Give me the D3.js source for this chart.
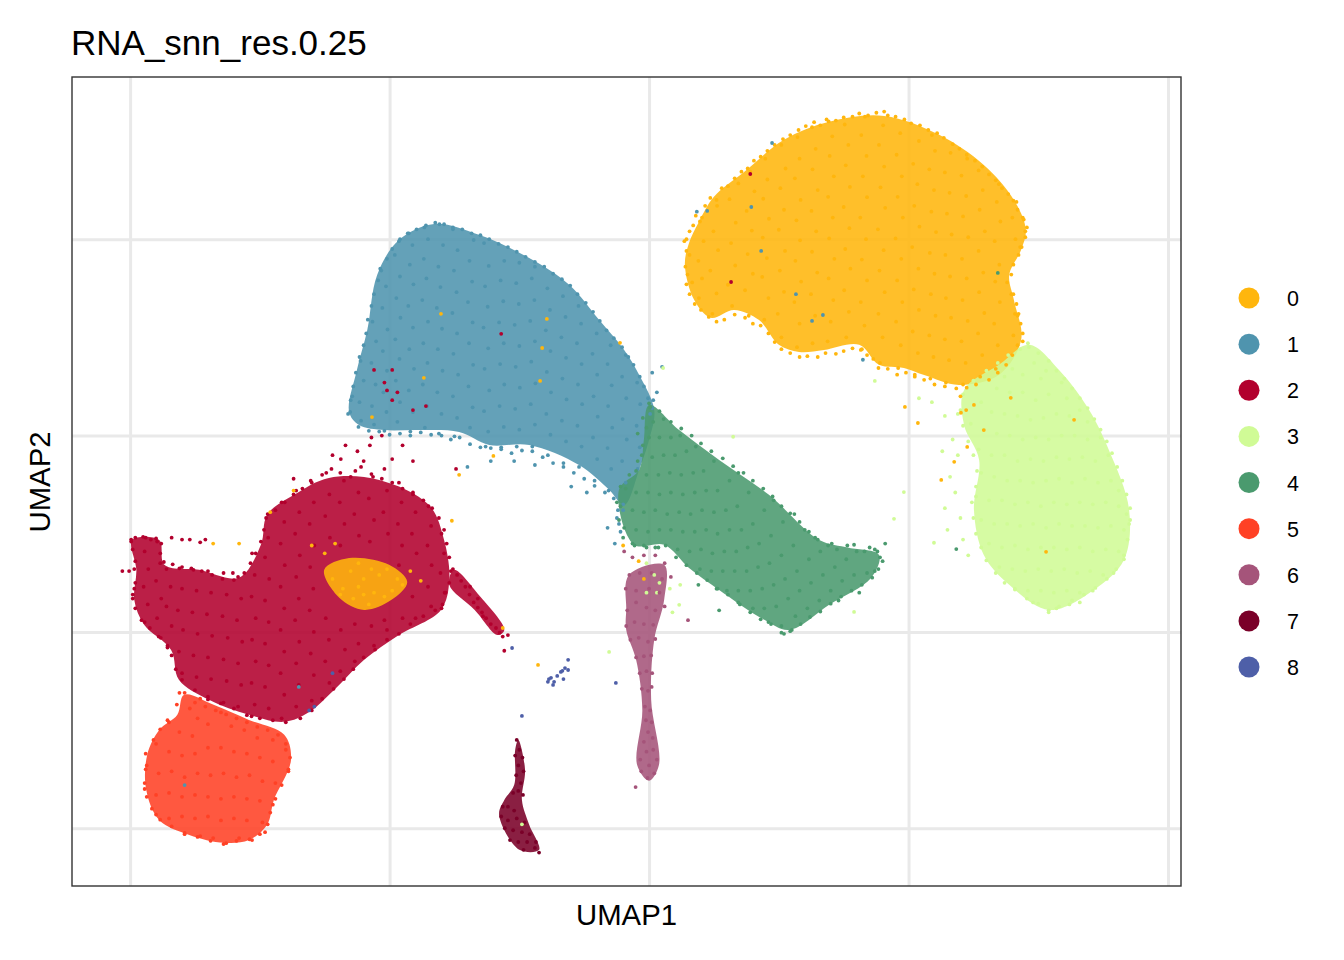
<!DOCTYPE html>
<html><head><meta charset="utf-8"><style>html,body{margin:0;background:#fff}svg{display:block}text{font-family:"Liberation Sans",Arial,sans-serif;fill:#000}</style>
<script src="https://cdn.jsdelivr.net/npm/d3@7"></script></head><body><div id="c"></div>
<script>
const clusters=["0","1","2","3","4","5","6","7","8"];
const colors=["#FFB60D","#4F94AE","#B2002D","#D0FB96","#4A9A6E","#FF4125","#A5547A","#7A0028","#4E5FA8"];
const xTicks=[-10,-5,0,5,10];
const yTicks=[-5,0,5,10];
const titleText="RNA_snn_res.0.25";
// Smoothed density areas standing in for the crowded interiors (thousands of cells can't be read one by one): [x,y, ...]
const region0=[.77,9.9,.96,10.44,1.25,11.08,1.83,11.71,2.6,12.53,3.47,12.99,4.53,13.14,5.59,12.66,6.45,11.89,7.03,11,7.26,10.24,7.17,9.73,6.94,9.09,7.03,8.45,7.17,7.44,6.74,6.54,5.97,6.29,5.3,6.54,4.91,6.72,4.43,6.8,4.05,7.31,3.37,7.18,2.89,7.13,2.5,7.31,2.12,7.94,1.64,8.2,1.19,8,.87,8.45,.69,9.35];
const region0b=[-6.26,1.58,-5.78,1.88,-5.01,1.71,-4.66,1.27,-4.97,.81,-5.49,.56,-5.97,.87];
const region1=[-5.78,5.6,-5.63,6.67,-5.43,7.69,-5.24,9.09,-4.82,9.98,-4.14,10.39,-3.28,10.11,-2.31,9.52,-1.54,8.84,-.96,7.94,-.48,7.18,-.19,6.54,.1,5.65,0,4.89,-.19,4.13,-.48,3.23,-.77,3.62,-1.35,4.25,-2.31,4.76,-3.08,4.76,-3.66,5.09,-4.43,5.14,-5.1,5.14,-5.59,5.27];
const region2=[-9.96,2.34,-9.44,2.34,-9.34,1.71,-8.67,1.58,-7.9,1.38,-7.48,2.22,-7.36,2.98,-6.84,3.49,-6.17,3.92,-5.2,3.87,-4.24,3.23,-3.95,2.34,-3.85,1.32,-4.01,.56,-4.82,-.08,-5.49,-.71,-6.07,-1.48,-6.55,-2.04,-7.03,-2.29,-7.71,-2.11,-8.48,-1.73,-9.06,-1.22,-9.21,-.46,-9.73,.18,-9.92,.81,-9.88,1.58];
const region2b=[-3.76,1.58,-3.28,.94,-2.79,.05,-2.92,-.08,-3.36,.56,-3.85,1.2];
const region3=[7.32,7.31,7.9,6.67,8.48,5.65,8.86,4.63,9.25,3.11,9.15,1.83,8.57,1.07,7.71,.56,6.94,1.2,6.45,1.96,6.26,3.11,6.36,4.38,6.07,5.27,6.07,6.16,6.74,6.8];
const region4=[0,5.78,.58,5.14,1.35,4.38,2.31,3.49,3.28,2.34,3.85,2.14,4.43,1.96,4.28,1.38,3.47,.69,2.7,.05,2.22,.31,1.35,1.07,.77,1.63,.29,2.22,-.29,2.22,-.58,3.62,-.19,4.13,-.1,4.89];
const region5=[-8.96,-1.6,-8.38,-1.86,-7.71,-2.24,-7.03,-2.62,-6.9,-3.26,-7.23,-4.28,-7.36,-4.91,-7.71,-5.3,-8.19,-5.37,-8.86,-5.17,-9.44,-4.79,-9.69,-4.02,-9.67,-3.13,-9.44,-2.5,-9.09,-2.11];
const region6=[-.44,.56,-.39,1.45,.29,1.71,.29,.81,.1,-.2,.04,-1.73,.19,-3.39,0,-3.79,-.23,-3.39,-.13,-1.99,-.25,-.71,-.44,.05];
const region7=[-2.52,-2.75,-2.39,-3.51,-2.45,-4.28,-2.31,-4.91,-2.12,-5.55,-2.5,-5.55,-2.89,-4.66,-2.79,-4.28,-2.6,-3.9,-2.58,-3];
// Cell positions: [x,y, x,y, ...]
const cells0=[.74,9.1,.78,9.6,.72,10,.83,8.9,.96,8.5,1.02,9,.95,9.45,1.05,9.95,.98,10.45,1.22,8.1,1.3,8.62,1.18,9.2,1.33,9.72,1.24,10.2,1.31,10.85,1.6,8.3,1.52,8.84,1.66,9.33,1.58,9.9,1.67,10.42,1.55,11.02,1.72,11.42,1.92,8.05,1.85,8.7,2,9.12,1.9,9.62,1.98,10.22,1.88,10.72,2.03,11.22,1.95,11.72,2.22,7.95,2.3,8.5,2.18,9.04,2.27,9.52,2.19,10.04,2.31,10.52,2.2,11.03,2.28,11.52,2.24,12.05,2.55,7.5,2.48,8.1,2.6,8.66,2.52,9.2,2.62,9.7,2.5,10.24,2.6,10.75,2.53,11.3,2.63,11.8,2.55,12.4,2.85,7.25,2.9,7.85,2.8,8.4,2.93,8.92,2.82,9.45,2.91,9.97,2.84,10.48,2.92,11,2.81,11.55,2.9,12.05,2.86,12.6,3.15,7.35,3.2,8.05,3.12,8.6,3.24,9.15,3.14,9.68,3.22,10.2,3.13,10.72,3.25,11.25,3.15,11.78,3.21,12.3,3.14,12.85,3.5,7.9,3.44,7.4,3.55,8.45,3.46,9,3.57,9.5,3.47,10.02,3.54,10.55,3.45,11.08,3.56,11.6,3.48,12.12,3.53,12.62,3.46,13,3.8,7.5,3.85,8.15,3.76,8.7,3.88,9.25,3.78,9.75,3.86,10.28,3.75,10.82,3.87,11.33,3.79,11.88,3.84,12.4,3.77,12.92,4.1,7.2,4.15,7.8,4.08,8.4,4.2,8.95,4.1,9.48,4.18,10,4.07,10.55,4.2,11.07,4.12,11.6,4.19,12.12,4.09,12.65,4.16,13.12,4.45,6.85,4.5,7.5,4.42,8.1,4.54,8.65,4.44,9.2,4.52,9.72,4.41,10.25,4.55,10.8,4.46,11.32,4.53,11.85,4.43,12.4,4.51,12.9,4.53,13.25,4.8,6.72,4.85,7.3,4.76,7.9,4.88,8.4,4.78,8.95,4.86,9.5,4.75,10.02,4.89,10.55,4.79,11.08,4.87,11.6,4.77,12.15,4.84,12.7,5.12,6.55,5.18,7.1,5.08,7.65,5.2,8.2,5.1,8.72,5.19,9.25,5.07,9.8,5.21,10.32,5.11,10.85,5.17,11.4,5.09,11.92,5.2,12.5,5.42,6.45,5.48,7,5.4,7.55,5.52,8.05,5.43,8.6,5.5,9.12,5.41,9.65,5.53,10.18,5.44,10.7,5.49,11.25,5.4,11.78,5.51,12.25,5.45,12.65,5.72,6.35,5.78,6.92,5.7,7.45,5.82,8,5.72,8.5,5.8,9.05,5.71,9.6,5.83,10.12,5.74,10.65,5.79,11.18,5.7,11.7,5.81,12.2,6.05,6.3,6.1,6.85,6.02,7.4,6.14,7.92,6.04,8.45,6.12,9,6.03,9.5,6.15,10.05,6.05,10.58,6.11,11.1,6.02,11.62,6.13,12.05,6.38,6.5,6.42,7.05,6.34,7.6,6.46,8.12,6.36,8.65,6.44,9.15,6.35,9.7,6.47,10.2,6.37,10.75,6.43,11.25,6.35,11.75,6.68,6.7,6.72,7.3,6.65,7.85,6.76,8.4,6.67,8.92,6.75,9.35,6.66,9.95,6.77,10.45,6.7,10.95,6.74,11.4,7.02,7.55,7.05,8.1,6.98,8.6,7.06,10,7,10.55,7.08,10.95,7.1,8.05,7.2,7.4,7.25,10.2,7.15,9.8,7.22,10.5];
const rim0=[.72,9.7,.7,9.3,.68,9.95,.78,10.2,.85,10.35,.9,10.6,1.02,10.55,1.08,10.85,1.18,11.05,1.3,11,1.4,11.3,1.52,11.35,1.65,11.55,1.78,11.72,1.9,11.8,2.02,12,2.15,12.1,2.28,12.25,2.42,12.4,2.58,12.55,2.72,12.65,2.88,12.78,3.02,12.88,3.18,12.98,3.3,12.9,3.42,13.05,3.6,13.02,3.75,13.1,3.92,13.12,4.05,13.2,4.22,13.15,4.38,13.22,4.6,13.15,4.75,13.12,4.92,13.05,5.05,12.95,5.22,12.9,5.38,12.78,5.55,12.7,5.68,12.58,5.85,12.42,5.98,12.3,6.12,12.15,6.28,12,6.42,11.85,6.55,11.65,6.68,11.5,6.8,11.3,6.92,11.15,7.02,10.98,7.1,10.75,7.2,10.55,7.28,10.3,7.25,10.05,7.18,9.8,7.12,9.6,7.02,9.35,6.98,9.1,6.9,8.9,7.02,8.6,7.08,8.35,7.12,8.1,7.16,7.85,7.2,7.6,7.1,7.3,7,7.05,6.88,6.8,6.72,6.6,6.55,6.42,6.3,6.3,6.12,6.22,5.92,6.2,5.7,6.25,5.5,6.3,5.3,6.42,5.12,6.5,4.95,6.6,4.78,6.55,4.6,6.7,4.42,6.72,4.32,6.95,4.2,7.05,4.08,7.18,3.92,7.22,3.75,7.15,3.6,7.08,3.4,7.1,3.25,7,3.05,7.02,2.9,7,2.72,7.1,2.55,7.2,2.42,7.38,2.3,7.6,2.15,7.8,2,7.85,1.85,8,1.65,8.08,1.45,7.95,1.3,7.9,1.15,8.02,1,8.2,.88,8.35,.78,8.6,.72,8.85];
const cells1=[-5.76,5.6,-5.72,6,-5.55,5.38,-5.58,5.85,-5.5,6.4,-5.56,6.9,-5.3,5.28,-5.34,5.75,-5.27,6.3,-5.35,6.85,-5.26,7.4,-5.33,7.9,-5.1,5.12,-5.06,5.6,-5.12,6.1,-5.05,6.65,-5.13,7.15,-5.04,7.7,-5.14,8.25,-5.07,8.8,-5.16,9.2,-4.85,5.35,-4.8,5.85,-4.88,6.4,-4.81,6.95,-4.89,7.45,-4.79,8,-4.87,8.5,-4.8,9.05,-4.9,9.6,-4.82,9.95,-4.6,5.1,-4.55,5.6,-4.63,6.15,-4.53,6.7,-4.62,7.2,-4.55,7.75,-4.64,8.3,-4.54,8.85,-4.61,9.35,-4.56,9.85,-4.63,10.15,-4.32,5.2,-4.28,5.75,-4.36,6.3,-4.27,6.85,-4.35,7.35,-4.26,7.9,-4.37,8.45,-4.29,9,-4.34,9.5,-4.26,10,-4.33,10.3,-4.05,5.05,-4,5.55,-4.08,6.1,-3.98,6.65,-4.07,7.2,-3.99,7.72,-4.09,8.25,-4.02,8.78,-4.06,9.3,-3.97,9.85,-4.04,10.38,-3.75,4.98,-3.7,5.45,-3.78,6,-3.68,6.55,-3.77,7.08,-3.7,7.6,-3.79,8.12,-3.71,8.65,-3.76,9.2,-3.69,9.72,-3.78,10.25,-3.45,5.2,-3.4,5.72,-3.48,6.25,-3.39,6.8,-3.47,7.35,-3.4,7.88,-3.49,8.4,-3.41,8.92,-3.46,9.45,-3.38,9.98,-3.15,4.72,-3.1,5.1,-3.18,5.62,-3.08,6.15,-3.17,6.7,-3.1,7.22,-3.19,7.75,-3.11,8.28,-3.16,8.8,-3.09,9.32,-3.18,9.9,-2.85,4.7,-2.8,5.22,-2.88,5.75,-2.79,6.3,-2.87,6.82,-2.8,7.35,-2.89,7.88,-2.81,8.42,-2.86,8.95,-2.79,9.45,-2.55,4.72,-2.5,5.15,-2.58,5.68,-2.49,6.22,-2.57,6.75,-2.5,7.28,-2.59,7.82,-2.51,8.35,-2.56,8.88,-2.5,9.4,-2.25,4.72,-2.2,5.28,-2.28,5.8,-2.19,6.33,-2.27,6.88,-2.2,7.4,-2.29,7.92,-2.21,8.45,-2.26,9,-2.2,9.3,-1.95,4.5,-1.9,5.02,-1.98,5.55,-1.89,6.1,-1.97,6.62,-1.9,7.15,-1.99,7.68,-1.91,8.2,-1.96,8.75,-1.65,4.3,-1.6,4.85,-1.68,5.38,-1.59,5.92,-1.67,6.45,-1.6,6.98,-1.69,7.5,-1.61,8.02,-1.66,8.55,-1.35,4.2,-1.3,4.72,-1.38,5.25,-1.29,5.8,-1.37,6.3,-1.3,6.82,-1.39,7.35,-1.31,7.85,-1.36,8.3,-1.05,3.85,-1,4.4,-1.08,4.95,-.99,5.48,-1.07,6,-1,6.55,-1.09,7.08,-1.01,7.6,-.78,3.6,-.73,4.15,-.8,4.68,-.71,5.2,-.79,5.75,-.72,6.28,-.8,6.82,-.74,7.3,-.5,3.25,-.45,3.8,-.52,4.35,-.43,4.9,-.51,5.42,-.44,5.95,-.52,6.5,-.45,7.05,-.22,4.15,-.18,4.7,-.24,5.25,-.17,5.8,-.23,6.35,.02,5.55,.08,5.9,.15,6.1,.25,6.75,-.62,2.9,-.55,2.55,-.66,2.25,-.6,3.1,-.8,2.65,.06,6.6,-1.5,3.7,-1.2,3.55,-2.2,4.25,-2.6,4.35,-3.05,4.35,-3.5,4.2];
const rim1=[-5.8,5.55,-5.75,5.9,-5.7,6.25,-5.65,6.6,-5.58,7,-5.5,7.3,-5.45,7.6,-5.42,7.95,-5.35,8.3,-5.3,8.6,-5.22,8.95,-5.18,9.25,-5.05,9.5,-4.95,9.75,-4.8,10,-4.65,10.15,-4.48,10.25,-4.3,10.35,-4.12,10.42,-3.95,10.38,-3.78,10.3,-3.6,10.25,-3.42,10.15,-3.25,10.1,-3.08,10,-2.9,9.88,-2.72,9.8,-2.55,9.68,-2.38,9.55,-2.2,9.42,-2.02,9.3,-1.85,9.12,-1.68,8.98,-1.52,8.82,-1.38,8.6,-1.22,8.38,-1.08,8.15,-.95,7.92,-.82,7.68,-.68,7.48,-.52,7.25,-.4,7,-.3,6.8,-.18,6.5,-.1,6.25,-.02,5.95,.06,5.7,-5.6,5.22,-5.4,5.12,-5.2,5.1,-5,5.02,-4.8,5.05,-4.6,5,-4.4,5.08,-4.2,5.02,-4,5,-3.82,4.9,-3.65,4.95,-3.45,4.78,-3.25,4.7,-3.05,4.68,-2.85,4.65,-2.65,4.55,-2.45,4.62,-2.25,4.6,-2.05,4.45,-1.85,4.3,-1.65,4.2,-1.45,4.05,-1.25,3.9,-1.05,3.72,-.85,3.55,-.68,3.4,-.5,3.1,-.58,2.75];
const cells2=[-10.02,1.55,-9.98,2.35,-9.95,2.1,-9.9,1.8,-9.92,1.1,-9.95,.85,-9.7,2.4,-9.72,2.05,-9.65,1.6,-9.74,1.15,-9.66,.7,-9.72,.25,-9.48,2.3,-9.42,1.75,-9.5,1.3,-9.4,.85,-9.48,.35,-9.41,-.15,-9.3,1.6,-9.22,1.15,-9.3,.65,-9.2,.15,-9.28,-.4,-9.05,1.62,-9,1.1,-9.08,.55,-8.98,.05,-9.06,-.5,-9,-1.05,-8.78,1.58,-8.72,1.05,-8.8,.5,-8.7,-.05,-8.78,-.6,-8.72,-1.15,-8.5,1.55,-8.44,1,-8.52,.45,-8.42,-.1,-8.5,-.65,-8.44,-1.2,-8.5,-1.65,-8.2,1.5,-8.14,.95,-8.22,.4,-8.12,-.15,-8.2,-.7,-8.14,-1.25,-8.2,-1.8,-7.92,1.4,-7.86,.85,-7.94,.3,-7.84,-.25,-7.92,-.8,-7.86,-1.35,-7.92,-1.9,-7.65,2,-7.6,1.45,-7.66,.9,-7.58,.35,-7.65,-.2,-7.58,-.75,-7.66,-1.3,-7.6,-1.85,-7.66,-2.15,-7.38,2.9,-7.34,2.4,-7.4,1.9,-7.32,1.35,-7.4,.8,-7.33,.25,-7.4,-.3,-7.33,-.85,-7.4,-1.4,-7.33,-1.95,-7.08,3.3,-7.03,2.8,-7.1,2.25,-7.02,1.7,-7.1,1.15,-7.03,.6,-7.1,.05,-7.03,-.5,-7.1,-1.05,-7.03,-1.6,-7.08,-2.2,-6.8,3.6,-6.74,3.05,-6.82,2.5,-6.73,1.95,-6.8,1.4,-6.75,.85,-6.82,.3,-6.74,-.25,-6.8,-.8,-6.75,-1.35,-6.8,-1.9,-6.52,3.85,-6.46,3.3,-6.54,2.75,-6.45,2.2,-6.53,1.65,-6.47,1.1,-6.54,.55,-6.46,0,-6.52,-.55,-6.46,-1.1,-6.5,-1.75,-6.22,4.05,-6.16,3.5,-6.24,2.95,-6.15,2.4,-6.23,.35,-6.17,-.2,-6.24,-.75,-6.16,-1.3,-5.94,4.4,-5.88,3.85,-5.96,3.3,-5.87,2.75,-5.95,2.2,-5.94,.05,-5.86,-.45,-5.95,-1,-5.66,4.1,-5.6,3.55,-5.68,3,-5.59,2.45,-5.67,.2,-5.6,-.3,-5.67,-.75,-5.38,4.75,-5.32,3.95,-5.4,3.4,-5.3,2.85,-5.38,2.3,-5.35,.15,-5.3,-.35,-5.1,4.15,-5.05,3.6,-5.12,3.05,-5.03,2.5,-5.1,.3,-5.05,.05,-4.82,3.8,-4.77,3.3,-4.84,2.75,-4.76,2.2,-4.82,1.7,-4.75,.35,-4.55,3.55,-4.5,3.05,-4.57,2.5,-4.48,2,-4.56,.9,-4.5,.35,-4.25,3.2,-4.2,2.7,-4.27,2.2,-4.19,1.7,-4.26,1.15,-4.2,.65,-4,2.5,-3.95,2,-4.02,1.5,-3.94,1,-4,.6,-3.78,1.6,-3.7,1.45,-3.62,1.3,-3.54,1.15,-3.46,.95,-3.38,.75,-3.3,.62,-3.22,.5,-3.14,.35,-3.05,.2,-2.95,.1,-2.88,-.02,-2.82,-.12,-3.3,.85,-3.45,1.15,-3.2,.4,-5.15,5,-5.35,4.95,-5.62,4.6,-5.85,4.75,-5.5,4.35,-4.95,4.4,-4.55,4.35,-4.75,4.75,-9.2,2.4,-9,2.35,-8.85,2.35,-8.55,2.35,-8.65,2.28,-10.15,1.55,-8.02,1.5,-6.85,3.9,-6.1,4.5];
const rim2=[-9.98,2.3,-9.9,2.4,-9.75,2.42,-9.6,2.35,-9.5,2.38,-9.4,2.25,-9.42,2,-9.35,1.78,-9.18,1.72,-9,1.65,-8.82,1.62,-8.62,1.55,-8.42,1.45,-8.22,1.35,-8,1.32,-7.8,1.5,-7.68,1.75,-7.58,2,-7.48,2.3,-7.42,2.6,-7.35,3,-7.2,3.1,-7.02,3.3,-6.85,3.5,-6.68,3.65,-6.5,3.8,-6.3,4,-6.12,4.15,-5.95,4.05,-5.75,3.95,-5.55,4.2,-5.35,4.02,-5.15,3.9,-4.95,3.8,-4.75,3.65,-4.55,3.5,-4.35,3.35,-4.18,3.15,-4.05,2.9,-3.95,2.6,-3.9,2.25,-3.85,1.9,-3.82,1.55,-3.85,1.25,-3.92,1,-3.98,.7,-4.12,.55,-4.35,.4,-4.6,.2,-4.82,-.05,-5.05,-.2,-5.28,-.45,-5.5,-.65,-5.7,-.95,-5.88,-1.2,-6.08,-1.45,-6.3,-1.7,-6.5,-2,-6.72,-2.2,-7,-2.3,-7.25,-2.25,-7.5,-2.2,-7.75,-2.12,-8,-1.95,-8.25,-1.82,-8.5,-1.72,-8.75,-1.48,-9,-1.22,-9.12,-.95,-9.2,-.6,-9.28,-.35,-9.45,-.12,-9.62,.1,-9.78,.3,-9.9,.6,-9.95,.95,-9.9,1.25,-9.92,1.6];
const cells3=[7.32,7.25,7.42,6.85,7.2,6.55,7.55,6.45,7.65,6.65,7,6.7,6.85,6.5,6.7,6.2,6.95,6.1,7.2,6.1,7.45,5.9,7.7,6.05,7.95,6.35,8.05,5.95,6.4,5.85,6.6,5.6,6.85,5.55,7.1,5.5,7.35,5.4,7.6,5.45,7.85,5.55,8.1,5.5,8.3,5.65,8.45,5.35,6.2,5.3,6.45,5.15,6.7,5.05,6.95,5,7.2,4.9,7.45,4.95,7.7,4.9,7.95,5,8.2,5,8.45,4.9,8.7,4.95,6.35,4.65,6.6,4.5,6.85,4.5,7.1,4.35,7.35,4.4,7.6,4.35,7.85,4.45,8.1,4.4,8.35,4.45,8.6,4.35,8.85,4.5,6.4,4.05,6.65,3.95,6.9,3.85,7.15,3.85,7.4,3.8,7.65,3.85,7.9,3.9,8.15,3.8,8.4,3.9,8.65,3.8,8.9,3.85,9.05,3.6,6.3,3.45,6.55,3.35,6.8,3.35,7.05,3.25,7.3,3.3,7.55,3.2,7.8,3.3,8.05,3.25,8.3,3.3,8.55,3.25,8.8,3.3,9.05,3.2,9.2,3,6.4,2.85,6.65,2.75,6.9,2.75,7.15,2.7,7.4,2.75,7.65,2.65,7.9,2.75,8.15,2.7,8.4,2.7,8.65,2.65,8.9,2.7,9.15,2.6,9.27,2.85,6.55,2.25,6.8,2.15,7.05,2.2,7.3,2.1,7.55,2.15,7.8,2.15,8.05,2.1,8.3,2.15,8.55,2.05,8.8,2.1,9.05,2.05,9.15,1.85,6.75,1.65,7,1.6,7.25,1.55,7.5,1.6,7.75,1.55,8,1.6,8.25,1.5,8.5,1.55,8.75,1.45,8.95,1.5,7.05,1.1,7.3,1.05,7.55,1.05,7.8,1,8.05,1.05,8.3,1,8.55,1.05,7.4,.75,7.7,.55,7.85,.6,8.1,.7,8.3,.75,5.95,5.55,5.7,5.5,5.45,5.85,5.2,5.95,5.85,4.9,5.95,4.5,5.65,4.6,5.8,3.95,5.9,3.55,5.7,3.15,5.75,2.6,6,2.9,6.05,2.35,6.15,1.95,1.62,4.97,4.35,6.39,.27,6.72,-.77,-.51,3.95,.51,4.91,3.56,4.72,2.88,5.49,2.27,.58,.69,.45,.5,.2,1.25,-.05,1,.4,1.1,.6,1.2,.15,1];
const rim3=[7.3,7.35,7.5,7.1,7.7,6.9,7.85,6.65,8,6.45,8.15,6.2,8.3,5.95,8.45,5.7,8.58,5.42,8.7,5.15,8.82,4.85,8.92,4.55,9.02,4.2,9.12,3.85,9.2,3.5,9.27,3.15,9.25,2.75,9.22,2.35,9.15,1.95,9,1.6,8.82,1.35,8.6,1.12,8.38,.95,8.15,.8,7.9,.65,7.7,.5,7.5,.72,7.28,.85,7.05,1.08,6.85,1.25,6.68,1.5,6.5,1.82,6.4,2.15,6.3,2.5,6.25,2.9,6.22,3.3,6.3,3.7,6.32,4.1,6.25,4.5,6.15,4.85,6.05,5.25,6,5.65,6.05,6.05,6.25,6.4,6.5,6.65,6.72,6.85,6.92,7.05,7.15,7.2];
const cells4=[.02,5.72,-.12,5.45,.08,5.35,.28,5.42,-.22,5.05,0,4.95,.2,4.95,.42,4.95,.6,5,-.14,4.5,.06,4.45,.28,4.5,.5,4.5,.72,4.6,.9,4.72,-.25,4.1,-.05,4,.18,4,.4,4.05,.62,4,.85,4.05,1.05,4.1,1.25,4.35,-.45,3.65,-.25,3.55,-.02,3.55,.2,3.5,.42,3.55,.65,3.5,.88,3.55,1.1,3.6,1.32,3.6,1.55,3.85,1.72,4.05,-.55,3.2,-.32,3.1,-.1,3.05,.12,3.1,.35,3,.58,3.05,.8,3,1.02,3.1,1.25,3.05,1.48,3.1,1.7,3.2,1.92,3.55,-.48,2.65,-.25,2.6,-.02,2.55,.2,2.6,.42,2.6,.65,2.55,.88,2.55,1.1,2.6,1.32,2.5,1.55,2.6,1.78,2.6,2,2.75,2.22,3.1,2.4,3.35,-.28,2.2,-.05,2.15,.18,2.15,.55,2.1,.78,2.05,1,2.1,1.22,2,1.45,2.05,1.68,2.05,1.9,2.15,2.12,2.25,2.35,2.45,2.58,2.8,2.8,3,.98,1.6,1.2,1.55,1.42,1.55,1.65,1.55,1.88,1.55,2.1,1.65,2.32,1.75,2.55,1.95,2.78,2.2,3,2.6,3.2,2.4,1.3,1.1,1.5,1.05,1.72,1.05,1.95,1.05,2.18,1.1,2.4,1.2,2.62,1.35,2.85,1.55,3.08,1.85,3.3,2.05,3.52,2.25,1.75,.7,2,.6,2.22,.6,2.45,.65,2.68,.85,2.9,1.05,3.12,1.25,3.35,1.45,3.58,1.65,3.8,1.85,4,2.05,4.25,2.15,4.4,2.05,2.3,.25,2.55,.15,2.75,.05,2.82,.4,3.05,.6,3.28,.8,3.5,1.05,3.72,1.3,3.95,1.45,4.2,1.5,4.35,1.55,4.5,1.8,2.6,-.05,.95,1.2,1.35,.55,3.65,.8,4.05,1,4.55,2.25];
const rim4=[0,5.82,.2,5.62,.42,5.35,.62,5.18,.82,5,1,4.8,1.2,4.6,1.42,4.42,1.62,4.22,1.82,4.05,2,3.85,2.2,3.65,2.38,3.45,2.55,3.2,2.72,3.02,2.9,2.8,3.08,2.55,3.25,2.35,3.45,2.2,3.62,2.1,3.82,2.2,3.95,2.22,4.15,2.05,4.35,2.1,4.45,1.9,4.42,1.6,4.3,1.38,4.1,1.2,3.9,1.05,3.7,.9,3.5,.72,3.3,.52,3.1,.38,2.92,.2,2.72,.02,2.55,-.02,2.35,.2,2.15,.32,1.95,.5,1.72,.75,1.52,.95,1.32,1.1,1.12,1.32,.92,1.5,.72,1.7,.52,1.9,.32,2.2,.12,2.15,-.1,2.2,-.32,2.25,-.5,2.4,-.58,2.85,-.62,3.3,-.55,3.7,-.38,4,-.22,4.35,-.12,4.75,-.05,5.2];
const cells5=[-9.05,-1.55,-8.85,-1.95,-8.65,-1.7,-8.7,-2.2,-9.25,-2.3,-9.05,-2.55,-8.8,-2.65,-8.5,-2.35,-8.25,-2.05,-8.05,-2.4,-7.8,-2.5,-7.55,-2.7,-7.25,-2.75,-7,-3,-9.5,-2.85,-9.25,-3.05,-9,-3.15,-8.75,-3.1,-8.5,-2.95,-8.25,-2.95,-8,-3.05,-7.75,-3.1,-7.5,-3.2,-7.25,-3.3,-6.95,-3.5,-9.68,-3.4,-9.45,-3.6,-9.2,-3.55,-8.95,-3.7,-8.7,-3.6,-8.45,-3.65,-8.2,-3.6,-7.95,-3.7,-7.7,-3.65,-7.45,-3.8,-7.2,-3.85,-9.72,-4,-9.5,-4.15,-9.25,-4.1,-9,-4.2,-8.75,-4.15,-8.5,-4.2,-8.25,-4.25,-8,-4.2,-7.75,-4.25,-7.5,-4.3,-7.25,-4.4,-9.5,-4.65,-9.25,-4.75,-9,-4.7,-8.75,-4.75,-8.5,-4.7,-8.25,-4.8,-8,-4.75,-7.75,-4.8,-7.45,-4.85,-8.95,-5.15,-8.65,-5.2,-8.4,-5.25,-8.15,-5.38,-7.9,-5.25,-7.65,-5.3,-7.4,-5.1];
const rim5=[-9.1,-1.85,-8.95,-1.55,-8.75,-1.8,-8.55,-1.9,-8.35,-2,-8.15,-2.1,-7.95,-2.2,-7.75,-2.3,-7.55,-2.42,-7.35,-2.5,-7.15,-2.62,-7,-2.85,-6.92,-3.2,-6.95,-3.55,-7.08,-3.9,-7.2,-4.25,-7.3,-4.6,-7.35,-4.9,-7.5,-5.15,-7.7,-5.28,-7.95,-5.32,-8.2,-5.4,-8.45,-5.32,-8.7,-5.22,-8.95,-5.12,-9.2,-4.95,-9.42,-4.78,-9.58,-4.5,-9.68,-4.2,-9.72,-3.85,-9.7,-3.5,-9.7,-3.1,-9.55,-2.75,-9.42,-2.48,-9.28,-2.25];
const cells6=[-.48,2.05,-.32,1.9,-.1,1.95,.12,1.95,.3,1.75,-.38,1.45,-.18,1.5,.05,1.5,.25,1.35,.42,1.4,-.45,1.1,-.25,1.05,0,1.1,.2,1,-.42,.55,-.25,.75,-.05,.62,.12,.55,.3,.65,-.44,.15,-.28,.25,-.1,.2,.08,.18,-.36,-.2,-.2,-.15,-.02,-.25,.12,-.18,-.25,-.65,-.1,-.62,.04,-.6,-.18,-1.05,-.05,-1,.06,-1.05,-.14,-1.45,-.02,-1.5,.05,-1.4,-.08,-1.9,.02,-2,-.06,-2.25,.05,-2.3,-.02,-2.55,.07,-2.7,-.1,-2.8,.08,-3,-.05,-3.05,-.17,-3.25,.15,-3.25,0,-3.4,-.15,-3.55,.1,-3.6,-.03,-3.72,-.26,-3.95,.75,.3];
const cells7=[-2.55,-2.75,-2.5,-3,-2.58,-3.15,-2.44,-3.2,-2.52,-3.4,-2.42,-3.55,-2.56,-3.65,-2.47,-3.85,-2.52,-4.05,-2.43,-4.15,-2.62,-4.1,-2.82,-4.45,-2.72,-4.45,-2.6,-4.55,-2.85,-4.7,-2.72,-4.8,-2.55,-4.75,-2.4,-4.85,-2.78,-5,-2.62,-5.05,-2.45,-5.1,-2.3,-5.15,-2.68,-5.3,-2.52,-5.35,-2.35,-5.35,-2.18,-5.35,-2.42,-5.55,-2.2,-5.5,-2.12,-5.62];
const cells8=[-1.95,-1.27,-1.83,-1.27,-1.89,-1.17,-1.77,-1.12,-1.7,-1.02,-1.62,-.92,-1.56,-.71,-1.56,-.97,-1.85,-1.35,-1.67,-.99,-1.93,-1.2,-1.65,-1.2];
// Misplaced cells: [cluster, x, y, ...]
const strays=[0,-6.1,1.35,0,-5.9,1.1,0,-5.75,1.55,0,-5.6,1.75,0,-5.5,1.35,0,-5.35,1.6,0,-5.2,1.45,0,-5.05,1.6,0,-4.85,1.35,0,-4.75,1.2,0,-5.95,.95,0,-5.7,.85,0,-5.5,.95,0,-5.3,1,0,-5.1,.9,0,-5.6,1.15,0,-4.95,1.05,0,-5.4,.7,0,-6.25,2,0,-6.5,2.2,0,-6.05,2.25,0,-4.4,1.3,0,-4.6,1.55,0,-6.85,3.6,0,-7.3,3.05,0,-8.4,2.25,0,-7.9,2.25,
2,-5.3,6.67,2,-4.95,6.67,2,-5.1,6.35,2,-5.05,6.15,2,-4.85,6.1,2,-4.95,5.9,2,-4.55,5.65,2,-4.3,5.75,2,-2.85,7.59,2,-3.72,4.15,
0,-1.97,7.97,0,-2.06,7.23,0,-2.1,6.39,0,-4.01,8.1,0,-4.34,6.47,0,-5.34,5.47,0,-.56,7.36,0,-3,4.48,0,-3.66,4,0,-3.8,2.83,
1,.92,10.7,1,1.12,10.72,1,1.97,10.82,1,2.16,9.7,1,2.83,8.6,1,3.35,8.07,1,3.14,7.92,1,4.12,6.93,1,2.37,12.45,
2,1.95,11.66,2,1.58,8.91,4,6.72,9.14,
0,4.93,5.73,0,5.18,5.32,0,6.01,5.58,0,6.11,5.65,0,6.26,5.78,0,6.45,5.14,0,6.13,4.71,0,5.88,4.33,0,5.63,3.87,0,6.97,5.96,0,8.19,5.4,0,7.65,2.04,0,6,6,0,-2.14,-.84,0,-2.82,.1,0,-.2,1.8,0,-.5,2.2,0,-.1,1.35,
4,5.92,2.11,8,-2.45,-2.14,8,-.64,-1.3,8,-2.64,-.41,2,-2.79,-.48,2,-2.72,-.08,
3,-2.45,-4.9,3,-.05,1.75,3,.1,1.45,1,-8.95,-3.9,1,-6.75,-1.4,8,-6.1,-1.05,8,-6.45,-1.9,8,-6.55,-2];

const W=1344,H=960,m={l:72,r:1181,t:77,b:886};
const x=d3.scaleLinear().domain([-11.12,10.25]).range([m.l,m.r]);
const y=d3.scaleLinear().domain([14.13,-6.47]).range([m.t,m.b]);
const pairs=a=>d3.range(0,a.length,2).map(i=>[a[i],a[i+1]]);
const svg=d3.select("#c").append("svg").attr("width",W).attr("height",H);
const gx=svg.append("g").attr("transform",`translate(0,${m.b})`).call(d3.axisBottom(x).tickValues(xTicks).tickSize(m.t-m.b).tickFormat(""));
const gy=svg.append("g").attr("transform",`translate(${m.l},0)`).call(d3.axisLeft(y).tickValues(yTicks).tickSize(m.l-m.r).tickFormat(""));
[gx,gy].forEach(g=>{g.select(".domain").remove();g.selectAll("line").attr("stroke","#E9E9E9").attr("stroke-width",3)});
const area=d3.line().x(d=>x(d[0])).y(d=>y(d[1])).curve(d3.curveCatmullRomClosed.alpha(.5));
const regions=[[region0,0],[region1,1],[region2,2],[region2b,2],[region5,5],[region3,3],[region4,4],[region6,6],[region7,7],[region0b,0]];
svg.append("g").selectAll("path").data(regions).join("path").attr("d",d=>area(pairs(d[0]))).attr("fill",d=>colors[d[1]]).attr("fill-opacity",.88);
const drawn=[[cells1,1],[rim1,1],[cells0,0],[rim0,0],[cells2,2],[rim2,2],[cells5,5],[rim5,5],[cells3,3],[rim3,3],[cells4,4],[rim4,4],[cells6,6],[cells7,7],[cells8,8]];
const pts=[];drawn.forEach(([a,k])=>pairs(a).forEach(p=>pts.push({p,k})));
for(let i=0;i<strays.length;i+=3)pts.push({p:[strays[i+1],strays[i+2]],k:strays[i]});
svg.append("g").selectAll("circle").data(pts).join("circle").attr("cx",d=>x(d.p[0])).attr("cy",d=>y(d.p[1])).attr("r",1.9).attr("fill",d=>colors[d.k]);
svg.append("rect").attr("x",m.l).attr("y",m.t).attr("width",m.r-m.l).attr("height",m.b-m.t).attr("fill","none").attr("stroke","#333").attr("stroke-width",1.4);
svg.append("text").attr("x",71).attr("y",55).attr("font-size",35).text(titleText);
svg.append("text").attr("x",626.5).attr("y",925).attr("text-anchor","middle").attr("font-size",29.3).text("UMAP1");
svg.append("text").attr("transform","translate(50,482) rotate(-90)").attr("text-anchor","middle").attr("font-size",29.3).text("UMAP2");
const ly=d3.scalePoint().domain(clusters).range([298,667]);
const lg=svg.append("g").selectAll("g").data(clusters).join("g").attr("transform",d=>`translate(0,${ly(d)})`);
lg.append("circle").attr("cx",1249).attr("r",10.5).attr("fill",(d,i)=>colors[i]);
lg.append("text").attr("x",1287).attr("y",8).attr("font-size",21.5).text(d=>d);
</script></body></html>
